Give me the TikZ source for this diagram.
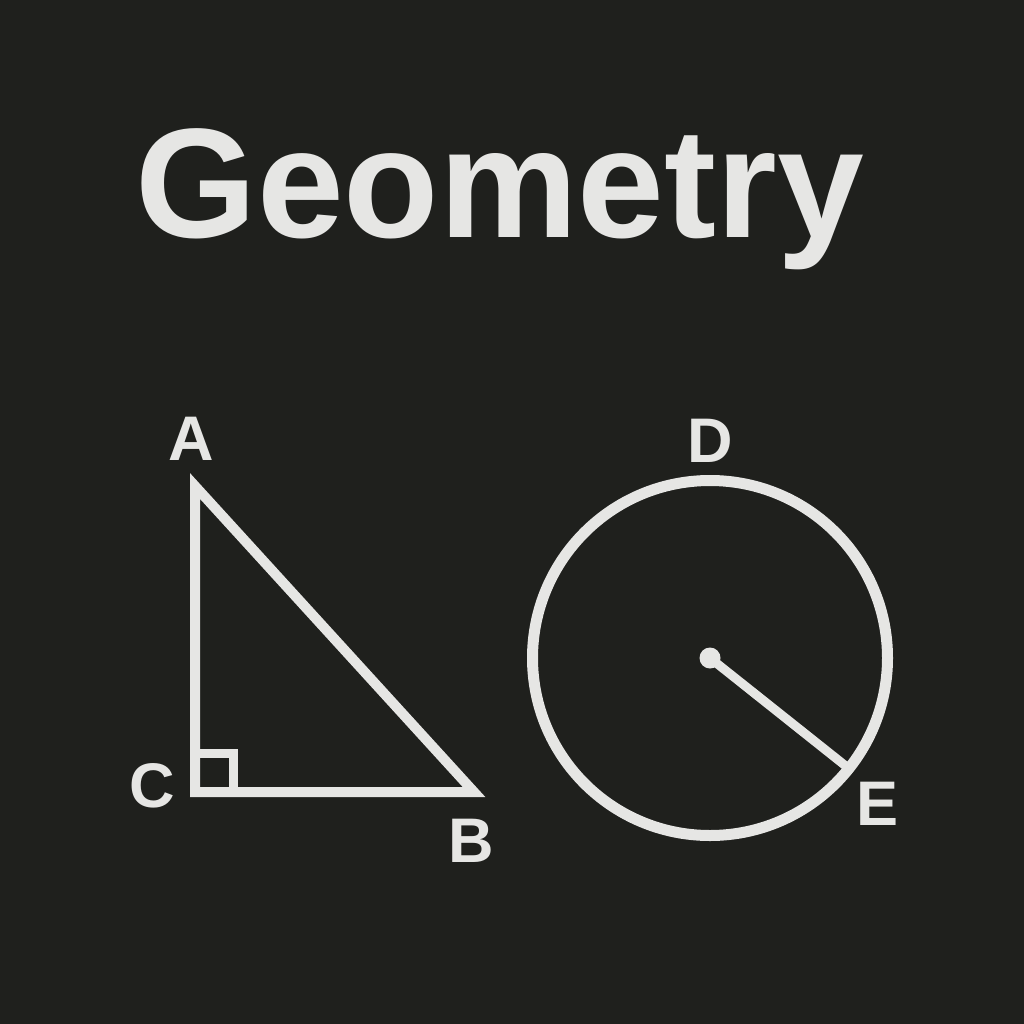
\documentclass[tikz,border=0pt]{standalone}
\usepackage{fontspec}
\setmainfont{Liberation Sans}
\definecolor{bgc}{RGB}{31,32,29}
\definecolor{fgc}{RGB}{230,230,228}
\begin{document}
\begin{tikzpicture}[x=1pt,y=-1pt,
  shape line/.style={draw=fgc, line width=10pt, line join=miter},
  lbl/.style={text=fgc, inner sep=0pt, anchor=base, font=\bfseries\fontsize{63}{63}\selectfont},
  ttl/.style={text=fgc, inner sep=0pt, anchor=base, font=\bfseries\fontsize{156}{156}\selectfont}]
\useasboundingbox (0,0) rectangle (1024,1024);
\fill[bgc] (0,0) rectangle (1024,1024);
% title
\node[ttl] (title) at (500,237) {Geometry};
% triangle
\coordinate (A) at (195,486);
\coordinate (C) at (195,792);
\coordinate (B) at (474,792);
\coordinate (S1) at (195,753);
\coordinate (S2) at (233,753);
\coordinate (S3) at (233,792);
\draw[shape line] (A) -- (B) -- (C) -- cycle;
\draw[draw=fgc, line width=9pt, line join=miter] (S1) -- (S2) -- (S3);
\node[lbl] (labA) at (191,460) {A};
\node[lbl] (labC) at (152,807) {C};
\node[lbl] (labB) at (471,862) {B};
% circle
\coordinate (O) at (710,658);
\coordinate (E) at (847,767);
\draw[draw=fgc, line width=11pt] (O) circle[radius=177.5];
\draw[draw=fgc, line width=9pt] (O) -- (E);
\fill[fgc] (O) circle[radius=10.5];
\node[lbl] (labD) at (710,462) {D};
\node[lbl] (labE) at (877,825) {E};
\end{tikzpicture}
\end{document}
